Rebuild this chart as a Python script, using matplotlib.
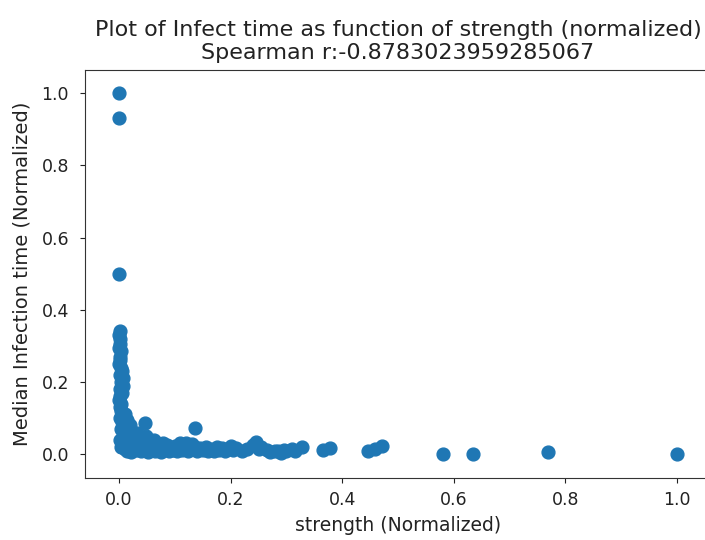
import matplotlib
matplotlib.use("Agg")
import matplotlib.pyplot as plt

# strength (normalized) vs median infection time (normalized)
strength = [
    0.000, 0.000, 0.000,
    # column at strength ~ 0
    0.001, 0.000, 0.002, 0.001, 0.000, 0.003, 0.001, 0.002, 0.000, 0.004,
    0.006, 0.002, 0.007, 0.003, 0.008, 0.001, 0.005, 0.002, 0.000, 0.003,
    0.001, 0.004, 0.010, 0.002, 0.015, 0.006, 0.020, 0.003, 0.012, 0.025,
    0.008, 0.030, 0.001, 0.018, 0.004, 0.047,
    # bottom band
    0.005, 0.010, 0.012, 0.015, 0.018, 0.020, 0.022, 0.025, 0.028, 0.030,
    0.032, 0.035, 0.038, 0.040, 0.042, 0.045, 0.048, 0.050, 0.052, 0.055,
    0.058, 0.060, 0.062, 0.065, 0.068, 0.070, 0.073, 0.075, 0.078, 0.080,
    0.083, 0.086, 0.090, 0.093, 0.096, 0.100, 0.103, 0.106, 0.110, 0.113,
    0.117, 0.120, 0.123, 0.127, 0.130, 0.133, 0.137, 0.140, 0.145, 0.150,
    0.155, 0.160, 0.165, 0.170, 0.175, 0.180, 0.185, 0.190, 0.195, 0.200,
    0.205, 0.210, 0.220, 0.230, 0.240, 0.245, 0.250, 0.255, 0.265, 0.270,
    0.280, 0.285, 0.290, 0.295, 0.300, 0.310, 0.315, 0.328, 0.136,
    # tail
    0.366, 0.378, 0.446, 0.459, 0.471, 0.581, 0.634, 0.769, 1.000,
]
infect_time = [
    1.000, 0.930, 0.500,
    0.340, 0.330, 0.320, 0.305, 0.295, 0.285, 0.270, 0.260, 0.250, 0.240,
    0.230, 0.220, 0.210, 0.200, 0.190, 0.180, 0.170, 0.160, 0.150, 0.140,
    0.130, 0.120, 0.110, 0.100, 0.095, 0.090, 0.080, 0.070, 0.065, 0.060,
    0.050, 0.045, 0.040, 0.035, 0.020, 0.085,
    0.020, 0.015, 0.030, 0.010, 0.040, 0.020, 0.005, 0.050, 0.030, 0.012,
    0.060, 0.020, 0.040, 0.008, 0.030, 0.015, 0.050, 0.025, 0.005, 0.035,
    0.012, 0.020, 0.040, 0.008, 0.028, 0.015, 0.022, 0.005, 0.030, 0.012,
    0.020, 0.025, 0.008, 0.018, 0.012, 0.022, 0.010, 0.015, 0.030, 0.012,
    0.020, 0.030, 0.010, 0.018, 0.028, 0.015, 0.020, 0.008, 0.016, 0.012,
    0.020, 0.010, 0.015, 0.008, 0.020, 0.012, 0.018, 0.008, 0.015, 0.022,
    0.012, 0.018, 0.010, 0.015, 0.025, 0.035, 0.015, 0.020, 0.012, 0.005,
    0.008, 0.010, 0.004, 0.012, 0.008, 0.015, 0.010, 0.019, 0.073,
    0.011, 0.017, 0.008, 0.014, 0.022, 0.000, 0.000, 0.005, 0.000,
]

spearman_r = -0.8783023959285067

fig = plt.figure(figsize=(7.05, 5.4), dpi=100)
ax = fig.add_axes([85 / 705, 62 / 540, 626 / 705, 408 / 540])

ax.scatter(strength, infect_time, s=85, color="#1f77b4")

ax.set_xlim(-0.061, 1.061)
ax.set_ylim(-0.066, 1.064)
ax.set_xticks([0.0, 0.2, 0.4, 0.6, 0.8, 1.0])
ax.set_yticks([0.0, 0.2, 0.4, 0.6, 0.8, 1.0])
ax.tick_params(labelsize=12.5, colors="#222222")
ax.tick_params(axis="y", pad=8)
ax.tick_params(axis="x", pad=6)
for sp in ax.spines.values():
    sp.set_color("#333333")

ax.set_title("Plot of Infect time as function of strength (normalized)\n"
             f"Spearman r:{spearman_r}", fontsize=16, color="#222222", pad=8)
ax.set_xlabel("strength (Normalized)", fontsize=13.5, color="#222222", labelpad=5)
ax.set_ylabel("Median Infection time (Normalized)", fontsize=14, color="#222222", labelpad=7)

fig.savefig("out.png", dpi=100)
